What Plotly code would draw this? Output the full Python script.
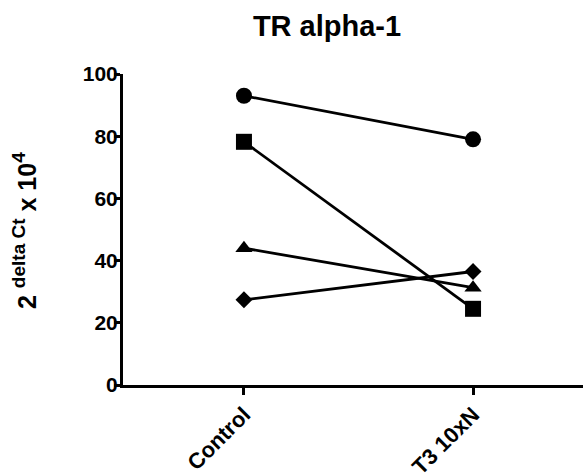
import plotly.graph_objects as go

categories = ["Control", "T3 10xN"]
circle_vals = [93, 79]
square_vals = [78.2, 24.5]
triangle_vals = [44, 31.3]
diamond_vals = [27.4, 36.5]
y_ticks = [0, 20, 40, 60, 80, 100]

series = [
    (circle_vals, "circle", 16),
    (square_vals, "square", 16),
    (triangle_vals, "triangle-up", 15),
    (diamond_vals, "diamond", 13),
]

FONT = "Liberation Sans, Arial, sans-serif"
xpos = list(range(len(categories)))

fig = go.Figure()
for vals, sym, sz in series:
    fig.add_trace(go.Scatter(
        x=xpos, y=vals, mode="lines+markers",
        line=dict(color="black", width=2.8),
        marker=dict(symbol=sym, size=sz, color="black", line=dict(width=0)),
        showlegend=False, cliponaxis=False,
    ))

fig.update_layout(
    width=583, height=476,
    margin=dict(l=123, r=0, t=74, b=91),
    plot_bgcolor="white", paper_bgcolor="white",
    font=dict(family=FONT, color="black"),
    title=dict(text="<b>TR alpha-1</b>", x=327/583, xanchor="center",
               y=1 - 26/476, yanchor="middle",
               font=dict(size=29, family=FONT, color="black")),
    xaxis=dict(
        range=[-0.528, 1.480], tickmode="array", tickvals=xpos,
        ticktext=["<b>%s</b>" % c for c in categories],
        tickangle=-45, showline=True, linewidth=3, linecolor="black",
        ticks="outside", ticklen=7, tickwidth=2.5, tickcolor="black",
        showgrid=False, zeroline=False, ticklabelstandoff=-2, automargin=False,
        tickfont=dict(size=22, family=FONT, color="black"),
    ),
    yaxis=dict(
        range=[0, 100], tickmode="array", tickvals=y_ticks,
        ticktext=["<b>%d</b>" % v for v in y_ticks],
        showline=True, linewidth=3, linecolor="black",
        ticks="outside", ticklen=6, tickwidth=2.5, tickcolor="black",
        showgrid=False, zeroline=False, ticklabelstandoff=-8, automargin=False,
        tickfont=dict(size=21, family=FONT, color="black"),
    ),
    annotations=[dict(
        text="<b>2 <sup><span style='font-size:19px'>delta Ct</span></sup> x 10<sup><span style='font-size:19px'>4</span></sup></b>",
        xref="paper", yref="paper",
        x=(24 - 123) / 460, y=(385 - 231) / 311, xanchor="center", yanchor="middle",
        textangle=-90, showarrow=False,
        font=dict(size=25, family=FONT, color="black"),
    )],
)

fig.write_html("out.html")
